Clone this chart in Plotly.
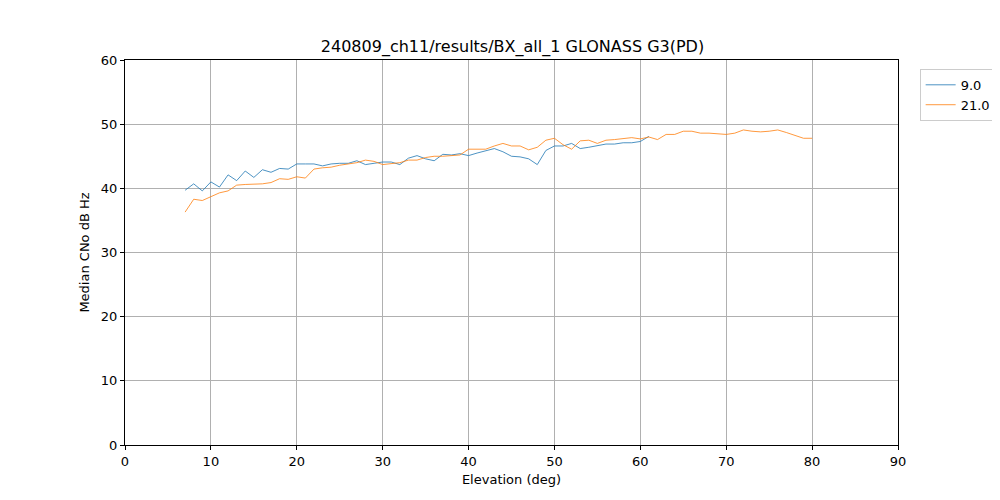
import plotly.graph_objects as go

elev_9 = list(range(7, 62))
cno_9 = [39.7, 40.7, 39.6, 41.0, 40.2, 42.1, 41.2, 42.7, 41.7, 42.9,
         42.5, 43.1, 43.0, 43.8, 43.8, 43.8, 43.5, 43.8, 43.9, 43.9,
         44.3, 43.7, 43.9, 44.1, 44.1, 43.7, 44.7, 45.1, 44.6, 44.3,
         45.3, 45.2, 45.4, 45.1, 45.5, 45.9, 46.2, 45.7, 45.0, 44.9,
         44.6, 43.7, 45.9, 46.6, 46.6, 47.0, 46.2, 46.4, 46.7, 46.9,
         46.9, 47.1, 47.1, 47.3, 48.1]

elev_21 = list(range(7, 81))
cno_21 = [36.3, 38.3, 38.1, 38.7, 39.3, 39.6, 40.5, 40.6, 40.6, 40.7,
          40.9, 41.5, 41.4, 41.8, 41.6, 43.0, 43.2, 43.3, 43.6, 43.8,
          44.0, 44.4, 44.2, 43.7, 43.8, 44.0, 44.4, 44.4, 44.8, 45.0,
          45.0, 45.1, 45.2, 46.1, 46.1, 46.1, 46.6, 47.0, 46.6, 46.6,
          46.0, 46.4, 47.5, 47.8, 46.8, 46.1, 47.4, 47.5, 47.0, 47.5,
          47.6, 47.8, 47.9, 47.7, 48.0, 47.6, 48.4, 48.4, 48.9, 48.9,
          48.6, 48.6, 48.5, 48.4, 48.6, 49.1, 48.9, 48.8, 48.9, 49.1,
          48.7, 48.3, 47.8, 47.8]

labels = ["9.0", "21.0"]
colors = ["#1f77b4", "#ff7f0e"]

fig = go.Figure()
fig.add_trace(go.Scatter(x=elev_9, y=cno_9, mode="lines", name=labels[0],
                         line=dict(color=colors[0], width=0.8)))
fig.add_trace(go.Scatter(x=elev_21, y=cno_21, mode="lines", name=labels[1],
                         line=dict(color=colors[1], width=0.8)))

axis_common = dict(
    showline=True, linecolor="black", linewidth=1, mirror=True,
    ticks="outside", ticklen=4, tickcolor="black",
    showgrid=True, gridcolor="#b0b0b0", gridwidth=1, zeroline=False,
    tickfont=dict(family="DejaVu Sans", size=13, color="black"),
    title_font=dict(family="DejaVu Sans", size=13, color="black"),
)

fig.update_xaxes(range=[0, 90], tick0=0, dtick=10, title_text="Elevation (deg)",
                 title_standoff=7, **axis_common)
fig.update_yaxes(range=[0, 60], tick0=0, dtick=10, title_text="Median CNo dB Hz",
                 title_standoff=8, **axis_common)

# page body has an 8px margin; compensate so the plot area sits at 125-900 x 60-445
fig.update_layout(
    width=1000, height=500,
    margin=dict(l=117, r=108, t=52, b=63),
    plot_bgcolor="white", paper_bgcolor="white",
    font=dict(family="DejaVu Sans", color="black"),
    title=dict(text="240809_ch11/results/BX_all_1 GLONASS G3(PD)",
               x=(117 + 892) / 2 / 1000, xanchor="center",
               y=1 - 38 / 500, yanchor="middle",
               font=dict(family="DejaVu Sans", size=16, color="black")),
    legend=dict(x=1.028, y=0.977, xanchor="left", yanchor="top",
                bgcolor="white", bordercolor="#cccccc", borderwidth=1,
                font=dict(family="DejaVu Sans", size=13, color="black"),
                tracegroupgap=1),
    showlegend=True,
)

fig.write_html("out.html")
